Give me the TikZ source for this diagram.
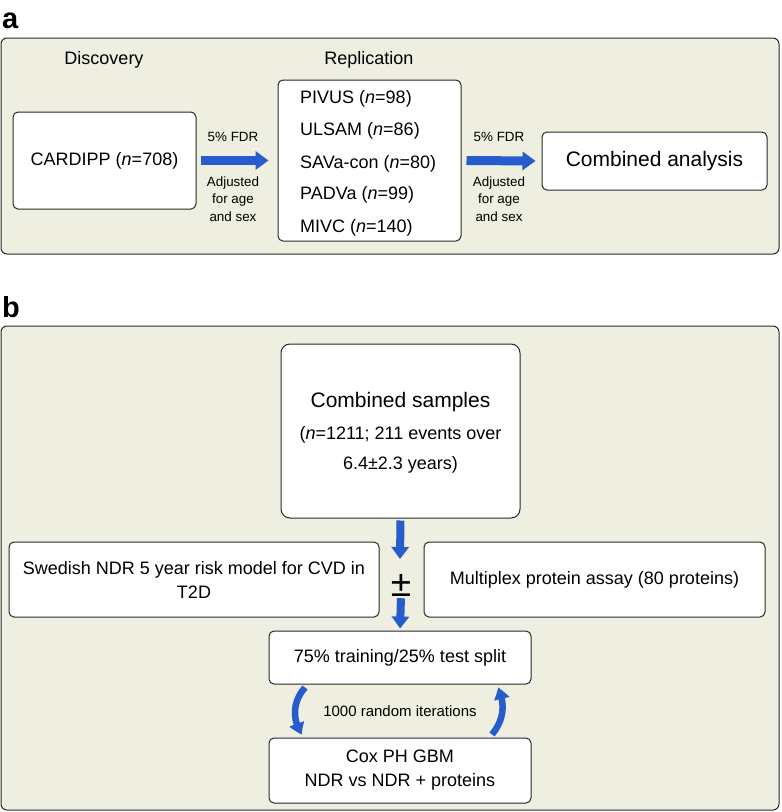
\documentclass[tikz,border=0pt]{standalone}
\usepackage{fontspec}
\setmainfont{Liberation Sans}
\usetikzlibrary{arrows.meta,calc,bending}
\definecolor{panelfill}{RGB}{238,238,225}
\definecolor{arrowblue}{RGB}{38,92,204}
\definecolor{edge}{RGB}{40,40,40}
\begin{document}
\begin{tikzpicture}[x=1pt,y=-1pt,
  panel/.style={draw=edge, line width=1pt, fill=panelfill, rounded corners=6pt, inner sep=0pt},
  box/.style={draw=edge, line width=1pt, fill=white, rounded corners=5pt, inner sep=0pt, align=center},
  txt/.style={inner sep=0pt, align=center},
  plabel/.style={inner sep=0pt, anchor=base west, font=\fontsize{29}{32}\selectfont\bfseries},
  fA/.style={font=\fontsize{18}{22}\selectfont},
  fS/.style={font=\fontsize{13.4}{17.5}\selectfont},
  fL/.style={font=\fontsize{21}{25}\selectfont},
  fit/.style={font=\fontsize{15}{18}\selectfont},
  bigarrow/.style={draw=arrowblue, line width=9pt, -{Triangle[width=18pt,length=13pt]}},
  vertarrow/.style={draw=arrowblue, line width=8pt, -{Triangle[width=17pt,length=12pt]}},
  curvarrow/.style={draw=arrowblue, line width=6.5pt, -{Triangle[width=15pt,length=12pt,bend]}},
  ]
\useasboundingbox (0,0) rectangle (782,812);

% ---------- panel a ----------
\node[plabel] (la) at (2,28) {a};
\node[panel, minimum width=778pt, minimum height=216pt] (panelA) at (390,146) {};
\node[txt, fA] (disc) at (104,60) {Discovery};
\node[txt, fA] (repl) at (369,60) {Replication};
\node[box, fA, minimum width=183pt, minimum height=97pt] (cardipp) at (104.5,160.5) {CARDIPP (\textit{n}=708)};
\node[box, minimum width=183pt, minimum height=161pt] (rep) at (369.5,160.5) {};
\node[txt, fA, anchor=base west] (r1) at (300,103.5) {PIVUS (\textit{n}=98)};
\node[txt, fA, anchor=base west] (r2) at (300,135.5) {ULSAM (\textit{n}=86)};
\node[txt, fA, anchor=base west] (r3) at (300,168.5) {SAVa-con (\textit{n}=80)};
\node[txt, fA, anchor=base west] (r4) at (300,199.5) {PADVa (\textit{n}=99)};
\node[txt, fA, anchor=base west] (r5) at (300,232.5) {MIVC (\textit{n}=140)};
\node[box, fL, minimum width=225pt, minimum height=58pt] (comb) at (654.5,161) {Combined analysis};

\draw[bigarrow, shorten <=4pt, shorten >=9pt] (cardipp.east) -- (rep.west);
\draw[bigarrow, shorten <=5pt, shorten >=6pt] (rep.east) -- (comb.west);
\node[txt, fS] (fdr1) at (233,137) {5\% FDR};
\node[txt, fS] (adj1) at (233,199) {Adjusted\\for age\\and sex};
\node[txt, fS] (fdr2) at (499,137) {5\% FDR};
\node[txt, fS] (adj2) at (499,199) {Adjusted\\for age\\and sex};

% ---------- panel b ----------
\node[plabel] (lb) at (2,317) {b};
\node[panel, minimum width=778pt, minimum height=484pt] (panelB) at (390,568) {};
\node[box, rounded corners=9pt, minimum width=239pt, minimum height=174pt] (cs) at (400.5,431) {};
\node[txt, fL, anchor=base] (cs1) at (400.5,407.5) {Combined samples};
\node[txt, fA, anchor=base] (cs2) at (400.5,439.5) {(\textit{n}=1211; 211 events over};
\node[txt, fA, anchor=base] (cs3) at (400.5,469.5) {6.4±2.3 years)};
\node[box, fA, minimum width=370pt, minimum height=75pt] (swe) at (194,579.5) {Swedish NDR 5 year risk model for CVD in\\[2pt]T2D};
\node[box, fA, minimum width=341pt, minimum height=75pt] (mult) at (594.5,579.5) {Multiplex protein assay (80 proteins)};
\node[txt, font=\fontsize{37}{38}\selectfont] (pm) at (401,585) {±};
\node[box, fA, minimum width=262pt, minimum height=53pt] (split) at (400,657.5) {75\% training/25\% test split};
\node[box, fA, minimum width=262pt, minimum height=65pt] (cox) at (400,770.5) {Cox PH GBM\\[2pt]NDR vs NDR + proteins};
\node[txt, fit] (iter) at (400,711) {1000 random iterations};

\coordinate (a1end) at (400,559);
\draw[vertarrow, shorten <=2pt] (cs.south) -- (a1end);
\draw[vertarrow, shorten <=2pt, shorten >=2pt] (pm.south) -- (split.north);
\draw[curvarrow] ([shift={(-95,3)}]split.south) to[bend right=38] ([shift={(-98,-3)}]cox.north);
\draw[curvarrow] ([shift={(92,-3)}]cox.north) to[bend right=32] ([shift={(98,3)}]split.south);
\end{tikzpicture}
\end{document}
